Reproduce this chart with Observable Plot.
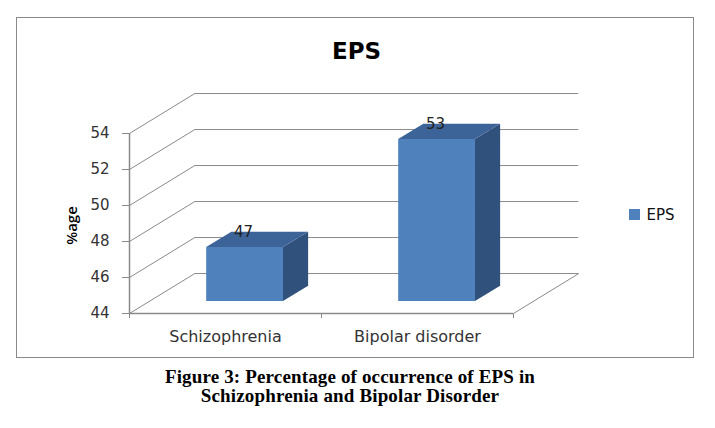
<!DOCTYPE html>
<html>
<head>
<meta charset="utf-8">
<script src="https://cdn.jsdelivr.net/npm/d3@7"></script>
<script src="https://cdn.jsdelivr.net/npm/@observablehq/plot@0.6"></script>
<style>
  html, body { margin: 0; padding: 0; background: #ffffff; }
  body { position: relative; width: 715px; height: 428px; overflow: hidden; }
  #frame { position: absolute; left: 16px; top: 17px; width: 676px; height: 339px; border: 1px solid #8a8a8a; }
  #chart { position: absolute; left: 0; top: 0; }
  #caption { position: absolute; left: 0; top: 367px; width: 700px; text-align: center;
             font-family: "Liberation Serif", "DejaVu Serif", serif; font-weight: bold;
             font-size: 19px; line-height: 19px; letter-spacing: 0.15px; color: #000; }
</style>
</head>
<body>
<div id="frame"></div>
<div id="chart"></div>
<div id="caption"></div>
<script>
// ---- data ----
const categories = ["Schizophrenia", "Bipolar disorder"];
const values = [47, 53];
const yTicks = [44, 46, 48, 50, 52, 54];
const seriesName = "EPS";
const chartTitle = "EPS";
const yLabel = "%age";
const captionLines = ["Figure 3: Percentage of occurrence of EPS in", "Schizophrenia and Bipolar Disorder"];

// ---- style / 3D geometry constants ----
const FRONT = "#4f81bd", TOP = "#3d6499", SIDE = "#30517c", GRID = "#8a8a8a", TEXT = "#333333";
const FONT = "DejaVu Sans, Open Sans, sans-serif";
const DX = 0.34, DY = 2.22;       // oblique depth axis (category units, value units)
const Z0 = 0.3, Z1 = 0.685;       // bar depth extent
const BL = 0.3, BR = 0.7;         // bar extent within a category band
const Y0 = yTicks[0], Y1 = yTicks[yTicks.length - 1];
const NC = categories.length;

const bars = categories.map((c, i) => ({cat: c, i, v: values[i]}));
const sidePts = bars.flatMap(d => [Z0, Z1].map(z => ({cat: d.cat, x: d.i + BR + z * DX, y1: Y0 + z * DY, y2: d.v + z * DY})));
const topPts = bars.flatMap(d => [Z0, Z1].map(z => ({cat: d.cat, y: d.v + z * DY, x1: d.i + BL + z * DX, x2: d.i + BR + z * DX})));

const chart = Plot.plot({
  width: 715,
  height: 360,
  marginLeft: 129,
  marginRight: 202,
  marginTop: 133,
  marginBottom: 47,
  style: {fontFamily: FONT, fontSize: "15px", color: TEXT, background: "transparent", overflow: "visible"},
  x: {type: "linear", domain: [0, NC], range: [129, 513]},
  y: {type: "linear", domain: [Y0, Y1], range: [313, 133]},
  marks: [
    // back wall gridlines
    Plot.ruleY(yTicks, {y: d => d + DY, x1: DX, x2: NC + DX, stroke: GRID, strokeWidth: 1}),
    // left wall diagonals
    Plot.link(yTicks, {x1: 0, y1: d => d, x2: DX, y2: d => d + DY, stroke: GRID, strokeWidth: 1}),
    // floor right edge
    Plot.link([Y0], {x1: NC, y1: d => d, x2: NC + DX, y2: d => d + DY, stroke: GRID, strokeWidth: 1}),
    // axes lines
    Plot.ruleX([0], {y1: Y0, y2: Y1, stroke: GRID, strokeWidth: 1.5}),
    Plot.ruleY([Y0], {x1: 0, x2: NC, stroke: GRID, strokeWidth: 1.5}),
    Plot.axisY(yTicks, {tickSize: 7, tickPadding: 13, stroke: GRID, fill: TEXT, label: null, tickFormat: d => String(d), fontSize: 15}),
    Plot.axisX(d3.range(NC + 1), {tickSize: 5, tickFormat: () => "", stroke: GRID, label: null}),
    // category labels
    Plot.text(bars, {x: d => d.i + 0.5, y: Y0, dy: 28, lineAnchor: "bottom", text: d => d.cat, fill: TEXT, fontSize: 16, letterSpacing: 0.2}),
    // bars: side, top, front
    Plot.areaY(sidePts, {x: "x", y1: "y1", y2: "y2", z: "cat", fill: SIDE}),
    Plot.areaX(topPts, {y: "y", x1: "x1", x2: "x2", z: "cat", fill: TOP}),
    Plot.rect(bars, {x1: d => d.i + BL + Z0 * DX, x2: d => d.i + BR + Z0 * DX, y1: Y0 + Z0 * DY, y2: d => d.v + Z0 * DY, fill: FRONT}),
    // value labels
    Plot.text(bars, {x: d => d.i + 0.5 + Z0 * DX, y: d => d.v + Z0 * DY, dx: -1.5, dy: -11, lineAnchor: "bottom", text: d => String(d.v), fill: "#222", fontSize: 15}),
    // y label
    Plot.text([yLabel], {frameAnchor: "left", dx: -57, dy: 2, rotate: -90, text: d => d, textAnchor: "middle", lineAnchor: "middle", fill: "#000", fontSize: 15, fontFamily: "Open Sans", fontWeight: 600}),
    // title
    Plot.text([chartTitle], {frameAnchor: "top-left", dx: 227, dy: -75, text: d => d, textAnchor: "middle", lineAnchor: "bottom", fontWeight: "bold", fontSize: 23, letterSpacing: 2, fill: "#000"}),
    // legend
    Plot.dot([seriesName], {frameAnchor: "top-left", dx: 505, dy: 81, symbol: "square", r: 6.2, fill: FRONT, stroke: "none"}),
    Plot.text([seriesName], {frameAnchor: "top-left", dx: 517, dy: 86, text: d => d, textAnchor: "start", lineAnchor: "bottom", fill: "#111", fontSize: 15})
  ]
});
document.getElementById("chart").appendChild(chart);
document.getElementById("caption").innerHTML = captionLines.join("<br>");
</script>
</body>
</html>
